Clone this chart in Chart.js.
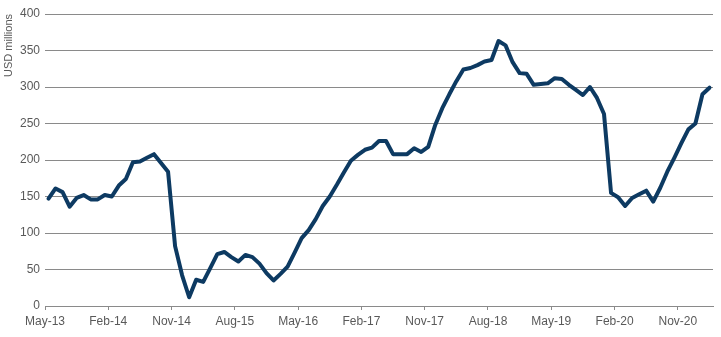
<!DOCTYPE html>
<html>
<head>
<meta charset="utf-8">
<script src="https://cdn.jsdelivr.net/npm/chart.js@4.4.1/dist/chart.umd.min.js"></script>
<style>
    html, body { margin: 0; padding: 0; background: #ffffff; }
    #wrap { width: 721px; height: 337px; }
</style>
</head>
<body>
<div id="wrap"><canvas id="chart-usd"></canvas></div>
<script>
"use strict";

const months = [
    'May-13', 'Jun-13', 'Jul-13', 'Aug-13', 'Sep-13', 'Oct-13', 'Nov-13', 'Dec-13',
    'Jan-14', 'Feb-14', 'Mar-14', 'Apr-14', 'May-14', 'Jun-14', 'Jul-14', 'Aug-14', 'Sep-14', 'Oct-14', 'Nov-14', 'Dec-14',
    'Jan-15', 'Feb-15', 'Mar-15', 'Apr-15', 'May-15', 'Jun-15', 'Jul-15', 'Aug-15', 'Sep-15', 'Oct-15', 'Nov-15', 'Dec-15',
    'Jan-16', 'Feb-16', 'Mar-16', 'Apr-16', 'May-16', 'Jun-16', 'Jul-16', 'Aug-16', 'Sep-16', 'Oct-16', 'Nov-16', 'Dec-16',
    'Jan-17', 'Feb-17', 'Mar-17', 'Apr-17', 'May-17', 'Jun-17', 'Jul-17', 'Aug-17', 'Sep-17', 'Oct-17', 'Nov-17', 'Dec-17',
    'Jan-18', 'Feb-18', 'Mar-18', 'Apr-18', 'May-18', 'Jun-18', 'Jul-18', 'Aug-18', 'Sep-18', 'Oct-18', 'Nov-18', 'Dec-18',
    'Jan-19', 'Feb-19', 'Mar-19', 'Apr-19', 'May-19', 'Jun-19', 'Jul-19', 'Aug-19', 'Sep-19', 'Oct-19', 'Nov-19', 'Dec-19',
    'Jan-20', 'Feb-20', 'Mar-20', 'Apr-20', 'May-20', 'Jun-20', 'Jul-20', 'Aug-20', 'Sep-20', 'Oct-20', 'Nov-20', 'Dec-20',
    'Jan-21', 'Feb-21', 'Mar-21'
];

// USD millions, one value per month
const usdMillions = [
    147, 161, 156, 136, 148, 152, 146, 146, 152, 150,
    165, 174, 197, 198, 203, 208, 196, 184, 82, 42,
    12, 36, 33, 52, 71, 74, 67, 61, 70, 67,
    58, 45, 35, 44, 54, 73, 93, 104, 119, 137,
    150, 166, 183, 199, 207, 214, 217, 226, 226, 208,
    208, 208, 216, 211, 218, 248, 271, 290, 308, 324,
    326, 330, 335, 337, 363, 357, 334, 319, 318, 303,
    304, 305, 312, 311, 303, 296, 289, 300, 285, 263,
    155, 149, 137, 148, 153, 158, 143, 162, 184, 203,
    223, 242, 250, 290, 299
];

const tickLabels = ['May-13', 'Feb-14', 'Nov-14', 'Aug-15', 'May-16', 'Feb-17', 'Nov-17', 'Aug-18', 'May-19', 'Feb-20', 'Nov-20'];

const lineColor = '#0d3a62';
const gridColor = '#8a8a8a';
const textColor = '#595959';

Chart.defaults.font.family = '"Liberation Sans", Arial, sans-serif';

// month i sits in the middle of its slot, ticks fall on slot boundaries
const points = usdMillions.map((v, i) => ({ x: i + 0.5, y: v }));
const tickPositions = tickLabels.map(l => months.indexOf(l));

new Chart(document.getElementById('chart-usd').getContext('2d'), {
    type: 'line',
    data: {
        datasets: [{
            data: points,
            borderColor: lineColor,
            borderWidth: 4,
            borderJoinStyle: 'round',
            borderCapStyle: 'round',
            pointRadius: 0,
            tension: 0,
            fill: false
        }]
    },
    options: {
        responsive: true,
        maintainAspectRatio: false,
        animation: false,
        layout: {
            padding: { top: 14, right: 8, left: 0, bottom: 0 }
        },
        plugins: {
            legend: { display: false },
            tooltip: { enabled: false }
        },
        scales: {
            x: {
                type: 'linear',
                min: 0,
                max: months.length,
                afterBuildTicks: axis => {
                    axis.ticks = tickPositions.map(v => ({ value: v }));
                },
                afterFit: scale => { scale.height = 31; },
                ticks: {
                    callback: value => months[value],
                    color: textColor,
                    font: { size: 12 },
                    padding: 4,
                    maxRotation: 0,
                    autoSkip: false
                },
                grid: {
                    drawOnChartArea: false,
                    tickLength: 4,
                    color: gridColor
                },
                border: { color: gridColor }
            },
            y: {
                min: 0,
                max: 400,
                afterFit: scale => { scale.width = 45; },
                ticks: {
                    stepSize: 50,
                    color: textColor,
                    font: { size: 12 },
                    padding: 5
                },
                grid: {
                    drawTicks: false,
                    color: gridColor
                },
                border: { display: false },
                title: {
                    display: true,
                    text: 'USD millions',
                    align: 'end',
                    color: textColor,
                    font: { size: 11 },
                    padding: { top: 2, bottom: 0 }
                }
            }
        }
    }
});
</script>
</body>
</html>
